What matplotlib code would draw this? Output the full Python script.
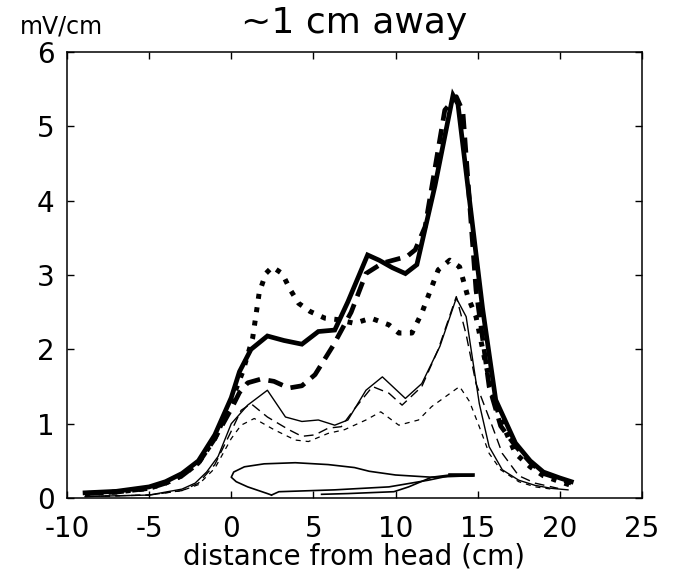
"""Campo elétrico ao longo do corpo, ~1 cm de distância."""

import matplotlib

matplotlib.use("Agg")
import matplotlib.pyplot as plt

plt.rcParams["font.family"] = ["DejaVu Sans"]
plt.rcParams["axes.unicode_minus"] = False  # hífen simples, como no original

# curva grossa contínua
x_grossa = [-8.9, -7, -5, -4, -3, -2, -1, 0, 0.5, 1.2, 2.2, 3.2, 4.3, 5.3, 6.3, 7.1,
            8.3, 9.0, 9.8, 10.6, 11.3, 12.4, 13.5, 13.8, 15.3, 16.1, 17.3, 18.2, 19.0,
            20.0, 20.7]
y_grossa = [0.07, 0.09, 0.15, 0.22, 0.33, 0.5, 0.85, 1.35, 1.7, 2.0, 2.18, 2.12, 2.07,
            2.24, 2.26, 2.64, 3.27, 3.2, 3.1, 3.02, 3.14, 4.2, 5.42, 5.3, 2.55, 1.32,
            0.74, 0.5, 0.35, 0.27, 0.22]

# curva grossa tracejada
x_trac = [-8.9, -7, -5, -4, -3, -2, -1, 0, 0.5, 1.0, 1.8, 2.6, 3.5, 4.3, 5.1, 6.2, 7.3,
          8.2, 9.2, 10.7, 11.2, 11.8, 13.0, 13.7, 14.1, 14.9, 15.7, 16.4, 17.3, 18.2,
          19.0, 20.0, 20.7]
y_trac = [0.06, 0.08, 0.13, 0.2, 0.3, 0.47, 0.8, 1.2, 1.42, 1.55, 1.6, 1.57, 1.48, 1.51,
          1.66, 2.05, 2.5, 3.02, 3.16, 3.25, 3.34, 3.65, 5.22, 5.4, 5.2, 2.8, 1.5, 0.97,
          0.7, 0.48, 0.33, 0.26, 0.2]

# curva grossa pontilhada
x_pont = [-8.9, -7, -5, -4, -3, -2, -1, 0, 0.7, 1.3, 1.7, 2.1, 2.5, 3.1, 3.6, 4.1, 4.8,
          5.7, 6.5, 7.5, 8.5, 9.6, 10.2, 11.0, 11.6, 12.6, 13.3, 13.9, 14.4, 14.9,
          15.4, 15.9, 16.4, 17.3, 18.2, 19.0, 20.0, 20.7]
y_pont = [0.06, 0.08, 0.13, 0.2, 0.3, 0.47, 0.8, 1.3, 1.7, 2.15, 2.76, 3.02, 3.11, 3.02,
          2.8, 2.62, 2.51, 2.42, 2.4, 2.35, 2.42, 2.33, 2.22, 2.22, 2.49, 3.07, 3.2,
          3.11, 2.71, 2.44, 1.9, 1.41, 1.05, 0.6, 0.42, 0.3, 0.22, 0.17]

# curva fina contínua
x_fina = [-8.9, -7, -5, -3, -2.2, -1.5, -0.8, 0, 1.0, 2.2, 3.3, 4.3, 5.3, 6.3, 7.1, 8.2,
          9.2, 10.6, 11.6, 12.7, 13.7, 14.3, 15.1, 15.7, 16.5, 17.5, 18.5, 19.5, 20.5]
y_fina = [0.02, 0.03, 0.04, 0.12, 0.2, 0.35, 0.56, 1.0, 1.25, 1.45, 1.09, 1.03, 1.05,
          0.98, 1.05, 1.45, 1.63, 1.34, 1.54, 2.04, 2.69, 2.44, 1.27, 0.69, 0.38, 0.24,
          0.17, 0.13, 0.11]

# curva fina tracejada (traço médio)
x_fina_trac = [-8.9, -7, -5, -3, -2, -1, 0, 0.6, 1.2, 2.2, 3.5, 4.3, 5.1, 5.9, 6.7,
               7.5, 8.6, 9.6, 10.4, 11.6, 12.6, 13.7, 14.3, 14.9, 15.9, 16.5, 17.5,
               18.5, 19.9]
y_fina_trac = [0.02, 0.03, 0.04, 0.1, 0.2, 0.45, 0.9, 1.18, 1.27, 1.09, 0.92, 0.83,
               0.85, 0.94, 0.96, 1.2, 1.5, 1.41, 1.25, 1.5, 2.0, 2.71, 2.2, 1.54, 0.96,
               0.6, 0.3, 0.2, 0.13]

# curva fina tracejada (traço curto)
x_curta = [-8.9, -7, -5, -3, -2, -1, 0, 0.6, 1.4, 2.6, 3.9, 4.7, 5.9, 6.9, 8.2, 9.1,
           10.2, 11.4, 12.2, 13.9, 14.5, 15.1, 15.7, 16.4, 17.5, 18.5, 19.5]
y_curta = [0.02, 0.03, 0.04, 0.1, 0.18, 0.4, 0.8, 0.98, 1.07, 0.92, 0.78, 0.76, 0.87,
           0.92, 1.05, 1.16, 0.98, 1.05, 1.23, 1.5, 1.3, 0.96, 0.6, 0.38, 0.22, 0.15,
           0.12]

# contorno do peixe
x_peixe_cima = [2.45, 2.2, 1.0, 0.3, 0.0, 0.15, 0.8, 2.0, 3.9, 5.9, 7.5, 8.4, 10.0,
                12.2, 14.7]
y_peixe_cima = [0.04, 0.06, 0.15, 0.22, 0.28, 0.35, 0.42, 0.46, 0.475, 0.45, 0.41,
                0.36, 0.31, 0.28, 0.3]
x_peixe_baixo = [2.45, 2.9, 6.3, 9.6, 12.0, 13.3, 14.7]
y_peixe_baixo = [0.04, 0.085, 0.11, 0.15, 0.24, 0.3, 0.3]
x_peixe_fundo = [5.5, 7.1, 9.9, 10.8, 12.2, 13.3]
y_peixe_fundo = [0.05, 0.06, 0.085, 0.15, 0.28, 0.31]
x_cauda = [13.3, 14.7]
y_cauda = [0.31, 0.31]


fig = plt.figure(figsize=(6.74, 5.71), dpi=100)
ax = fig.add_axes([0.0994, 0.1278, 0.853, 0.781])

ax.plot(x_grossa, y_grossa, color="black", lw=3.4, solid_joinstyle="miter")
ax.plot(x_trac, y_trac, color="black", lw=3.4, linestyle=(0, (3.2, 1.8)))
ax.plot(x_pont, y_pont, color="black", lw=3.6, linestyle=(0, (1, 1.7)))
ax.plot(x_fina, y_fina, color="black", lw=1.0)
ax.plot(x_fina_trac, y_fina_trac, color="black", lw=1.0, linestyle=(0, (7, 4)))
ax.plot(x_curta, y_curta, color="black", lw=0.9, linestyle=(0, (4, 4)))

for xs, ys in [(x_peixe_cima, y_peixe_cima), (x_peixe_baixo, y_peixe_baixo),
               (x_peixe_fundo, y_peixe_fundo)]:
    ax.plot(xs, ys, color="black", lw=1.2)
ax.plot(x_cauda, y_cauda, color="black", lw=2.6)

ax.set_xlim(-10, 25)
ax.set_ylim(0, 6)
ax.set_xticks(range(-10, 26, 5))
ax.set_yticks(range(0, 7))
ax.tick_params(direction="in", length=5, width=1.0, top=True, right=True,
               labelsize=20, pad=9)
ax.tick_params(axis="x", pad=12)
for lado in ax.spines.values():
    lado.set_linewidth(1.1)

ax.set_xlabel("distance from head (cm)", fontsize=20, labelpad=0)
ax.set_title("~1 cm away", fontsize=26, pad=14)
fig.text(0.03, 0.932, "mV/cm", fontsize=17, ha="left", va="bottom")

fig.savefig("out.png", dpi=100)
